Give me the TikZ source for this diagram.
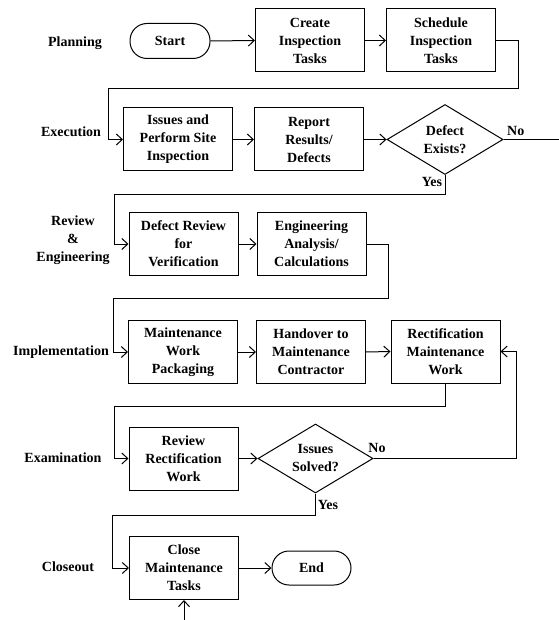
\documentclass[tikz,border=0pt]{standalone}
\usepackage{fontspec}
\setmainfont{Liberation Serif}
\usetikzlibrary{arrows.meta,shapes.geometric,calc}
\begin{document}
\begin{tikzpicture}[x=1pt,y=-1pt,
  font=\fontsize{14}{18}\selectfont\bfseries,
  box/.style={draw,line width=1pt,minimum width=109pt,minimum height=63pt,align=center,inner sep=0pt},
  term/.style={draw,line width=1pt,minimum width=80pt,minimum height=35pt,rounded corners=17pt,inner sep=0pt},
  dec/.style={draw,diamond,line width=1pt,minimum width=116pt,minimum height=70pt,inner sep=0pt,align=center,aspect=1.66},
  arr/.style={line width=1pt,-{Straight Barb[length=6pt,width=11pt]}},
  ln/.style={line width=1pt},
  lab/.style={align=center,inner sep=0pt}]
\useasboundingbox (0,0) rectangle (558,620);

% phase labels
\node[lab] (lplan) at (75,43) {Planning};
\node[lab] (lexec) at (71,132) {Execution};
\node[lab] (lrev) at (73,240) {Review\\\&\\Engineering};
\node[lab] (limp) at (61,352) {Implementation};
\node[lab] (lexam) at (63,458) {Examination};
\node[lab] (lclose) at (68,567) {Closeout};

% row 1
\node[term] (start) at (170,41) {Start};
\node[box] (create) at (310,40.5) {Create\\Inspection\\Tasks};
\node[box] (sched) at (441,40.5) {Schedule\\Inspection\\Tasks};

% row 2
\node[box] (issues) at (178,139.5) {Issues and\\Perform Site\\Inspection};
\node[box] (report) at (309,139.5) {Report\\Results/\\Defects};
\node[dec] (d1) at (445,139.5) {Defect\\Exists?};

% row 3
\node[box] (defrev) at (183.5,244) {Defect Review\\for\\Verification};
\node[box] (eng) at (311.5,244) {Engineering\\Analysis/\\Calculations};

% row 4
\node[box] (mwp) at (183,352) {Maintenance\\Work\\Packaging};
\node[box] (hand) at (311,352) {Handover to\\Maintenance\\Contractor};
\node[box] (rect) at (445.5,351.5) {Rectification\\Maintenance\\Work};

% row 5
\node[box] (rrw) at (183.5,458.5) {Review\\Rectification\\Work};
\node[dec,minimum width=115pt,minimum height=69pt] (d2) at (315.5,458.5) {Issues\\Solved?};

% row 6
\node[box] (close) at (184,568) {Close\\Maintenance\\Tasks};
\node[term,minimum width=79pt,minimum height=34pt] (end) at (311.5,568) {End};

% connectors
\draw[arr] (start.east) -- (create.west);
\draw[arr] (create.west -| create.east) -- (sched.west);
\draw[arr] (sched.east) -- ++(22,0) -- ++(0,48) -| ([xshift=-15pt]issues.west) -- (issues.west);
\draw[arr] (issues.east) -- (report.west);
\draw[arr] (report.east) -- (d1.west);
\coordinate (noend) at (560,139.5);
\draw[ln] (d1.east) -- (noend);
\node[lab,anchor=west] (no1) at (507,131) {No};
\draw[arr] (d1.south) -- ++(0,20) -| ([xshift=-14pt]defrev.west) -- (defrev.west);
\node[lab] (yes1) at (432,182) {Yes};
\draw[arr] (defrev.east) -- (eng.west);
\draw[arr] (eng.east) -- ++(22,0) -- ++(0,54) -| ([xshift=-15pt]mwp.west) -- (mwp.west);
\draw[arr] (mwp.east) -- (hand.west);
\draw[arr] (hand.east) -- (rect.west);
\draw[arr] (rect.south) -- ++(0,23) -| ([xshift=-14pt]rrw.west) -- (rrw.west);
\draw[arr] (rrw.east) -- (d2.west);
\draw[arr] (d2.east) -- ++(143,0) |- (rect.east);
\node[lab] (no2) at (377,448) {No};
\draw[arr] (d2.south) -- ++(0,22) -| ([xshift=-17pt]close.west) -- (close.west);
\node[lab] (yes2) at (328,505) {Yes};
\draw[arr] (close.east) -- (end.west);
\coordinate (bot) at (184,622);
\draw[arr] (bot) -- (close.south);
\end{tikzpicture}
\end{document}
